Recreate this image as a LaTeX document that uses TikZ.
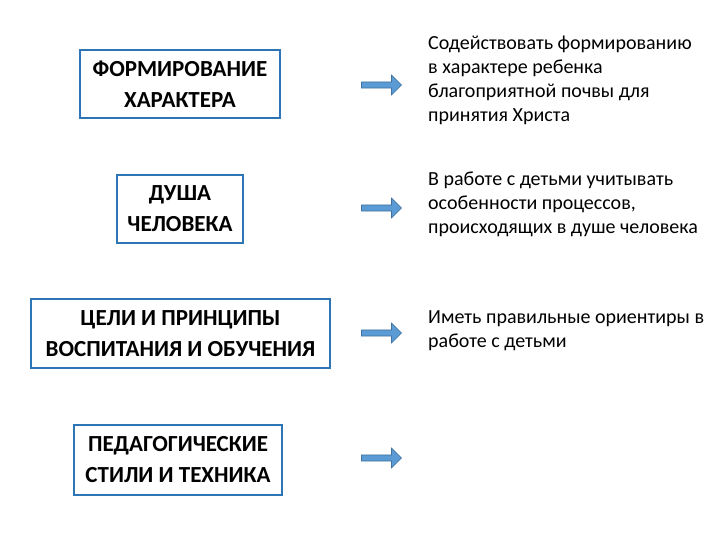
\documentclass[tikz,border=0pt]{standalone}
\usepackage{fontspec}
\setmainfont{Carlito}
\usetikzlibrary{shapes.arrows}
\definecolor{bbord}{HTML}{2E75B6}
\definecolor{afill}{HTML}{5B9BD5}
\definecolor{aline}{HTML}{41719C}
\newcommand\bxfont{\fontsize{23}{31}\selectfont\bfseries}
\newcommand\txfont{\fontsize{20}{24}\selectfont}
\begin{document}
\begin{tikzpicture}[x=1pt,y=-1pt,
 box/.style={draw=bbord,line width=2.5pt,align=center,font=\bxfont,inner sep=0pt},
 arr/.style={single arrow,draw=aline,fill=afill,line width=0.6pt,minimum width=20pt,single arrow head extend=3pt,minimum height=40pt,inner sep=1pt},
 txt/.style={align=left,anchor=north west,font=\txfont,inner sep=0pt}]
\useasboundingbox (0,0) rectangle (720,540);
\node[box,minimum width=200pt,minimum height=68pt] (b1) at (180,84) {ФОРМИРОВАНИЕ\\ХАРАКТЕРА};
\node[box,minimum width=126pt,minimum height=68pt] (b2) at (180,209) {ДУША\\ЧЕЛОВЕКА};
\node[box,minimum width=299pt,minimum height=69pt] (b3) at (180.5,333.5) {ЦЕЛИ И ПРИНЦИПЫ\\ВОСПИТАНИЯ И ОБУЧЕНИЯ};
\node[box,minimum width=208pt,minimum height=70pt] (b4) at (178,460) {ПЕДАГОГИЧЕСКИЕ\\СТИЛИ И ТЕХНИКА};
\node[arr] (a1) at (380,85) {};
\node[arr] (a2) at (380,208) {};
\node[arr] (a3) at (380,333) {};
\node[arr] (a4) at (380,458) {};
\node[txt] (t1) at (428,36) {Содействовать формированию\\в характере ребенка\\благоприятной почвы для\\принятия Христа};
\node[txt] (t2) at (428,172) {В работе с детьми учитывать\\особенности процессов,\\происходящих в душе человека};
\node[txt] (t3) at (428,310) {Иметь правильные ориентиры в\\работе с детьми};
\end{tikzpicture}
\end{document}
